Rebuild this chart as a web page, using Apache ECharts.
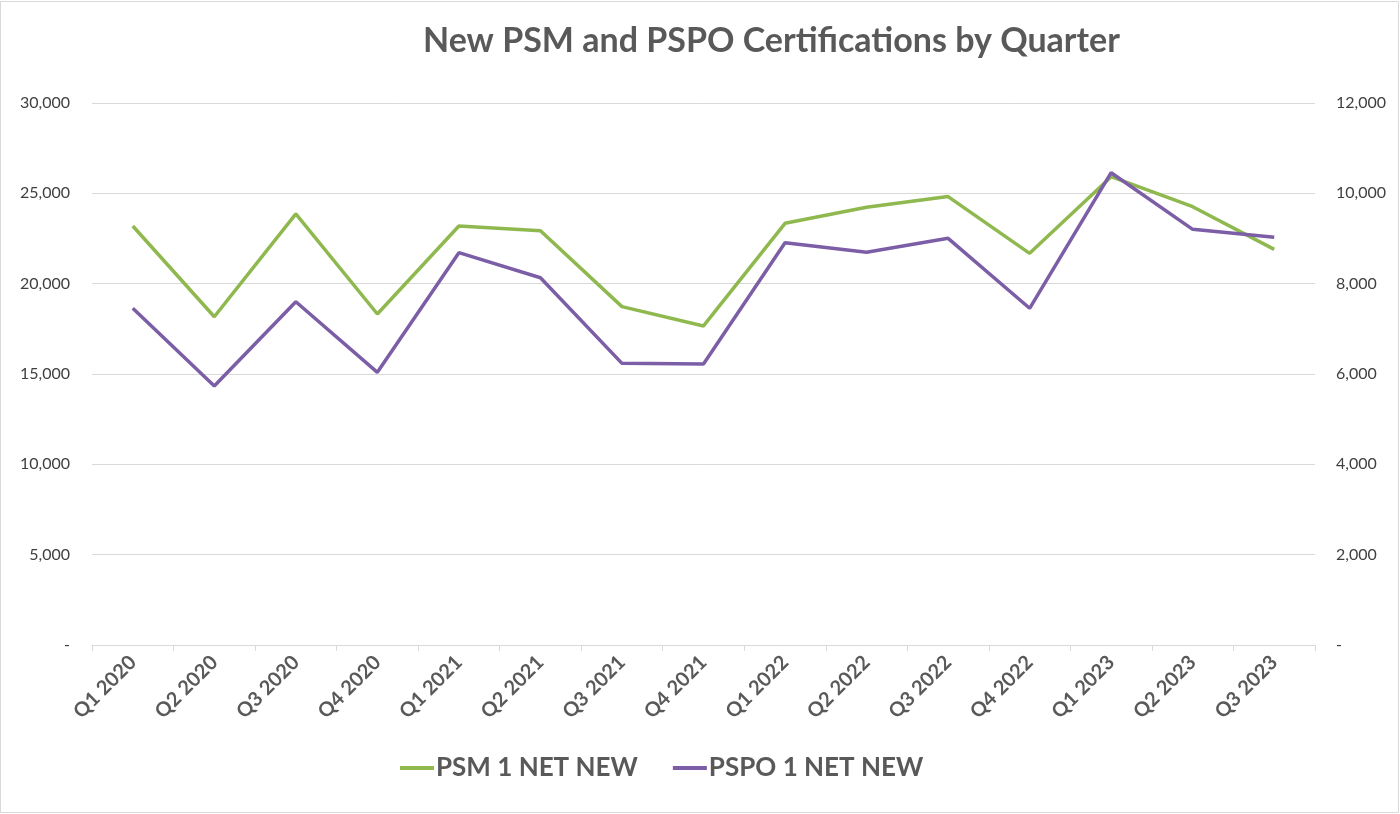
<!DOCTYPE html>
<html><head><meta charset="utf-8">
<script src="https://cdn.jsdelivr.net/npm/echarts@6/dist/echarts.min.js"></script>
<style>html,body{margin:0;padding:0;background:#fff}#c{width:1400px;height:814px}</style>
</head><body><div id="c"></div>
<script>
const categories = ['Q1 2020','Q2 2020','Q3 2020','Q4 2020','Q1 2021','Q2 2021','Q3 2021','Q4 2021','Q1 2022','Q2 2022','Q3 2022','Q4 2022','Q1 2023','Q2 2023','Q3 2023'];
const psm = [23190, 18170, 23860, 18320, 23190, 22930, 18730, 17660, 23340, 24230, 24820, 21680, 25920, 24260, 21900];
const pspo = [7455, 5734, 7600, 6037, 8686, 8132, 6236, 6221, 8907, 8694, 9004, 7455, 10457, 9203, 9026];
const seriesNames = ['PSM 1 NET NEW', 'PSPO 1 NET NEW'];
const titleText = 'New PSM and PSPO Certifications by Quarter';

const fmt = v => v === 0 ? '-' : v.toLocaleString('en-US');
const chart = echarts.init(document.getElementById('c'));
chart.setOption({
  backgroundColor: '#fff',
  animation: false,
  textStyle: { fontFamily: 'Lato' },
  title: {
    text: titleText, left: 418, top: 19,
    textStyle: { fontFamily: 'Lato', fontWeight: 'bold', fontSize: 34, color: '#595959' }
  },
  graphic: [{ type: 'rect', shape: { x: 0.5, y: 1.5, width: 1398, height: 811 }, style: { fill: 'none', stroke: '#d9d9d9', lineWidth: 1 }, silent: true }],
  legend: {
    data: seriesNames, bottom: 28, left: 395, itemGap: 35,
    itemWidth: 34, itemHeight: 4, icon: 'rect',
    textStyle: { fontFamily: 'Lato', fontWeight: 'bold', fontSize: 26, color: '#595959', padding: [0, 0, 0, -3] }
  },
  grid: { left: 92, right: 85, top: 103, bottom: 169 },
  xAxis: {
    type: 'category', data: categories, boundaryGap: true,
    axisLine: { lineStyle: { color: '#d9d9d9', width: 1 } },
    axisTick: { show: true, length: 6, lineStyle: { color: '#d9d9d9' } },
    axisLabel: { rotate: 45, margin: 14, fontFamily: 'Lato', fontWeight: 'bold', fontSize: 20, color: '#595959' }
  },
  yAxis: [
    { type: 'value', min: 0, max: 30000, interval: 5000,
      axisLine: { show: false }, axisTick: { show: false },
      splitLine: { lineStyle: { color: '#d9d9d9', width: 1 } },
      axisLabel: { formatter: fmt, margin: 22, fontFamily: 'Lato', fontSize: 16, color: '#404040' } },
    { type: 'value', min: 0, max: 12000, interval: 2000, position: 'right',
      axisLine: { show: false }, axisTick: { show: false }, splitLine: { show: false },
      axisLabel: { formatter: fmt, margin: 21, fontFamily: 'Lato', fontSize: 16, color: '#404040' } }
  ],
  series: [
    { name: seriesNames[0], type: 'line', yAxisIndex: 0, data: psm, symbol: 'none',
      lineStyle: { color: '#8fb84f', width: 3.5 }, itemStyle: { color: '#8fb84f' } },
    { name: seriesNames[1], type: 'line', yAxisIndex: 1, data: pspo, symbol: 'none',
      lineStyle: { color: '#7b5ea6', width: 3.5 }, itemStyle: { color: '#7b5ea6' } }
  ]
});
</script></body></html>
